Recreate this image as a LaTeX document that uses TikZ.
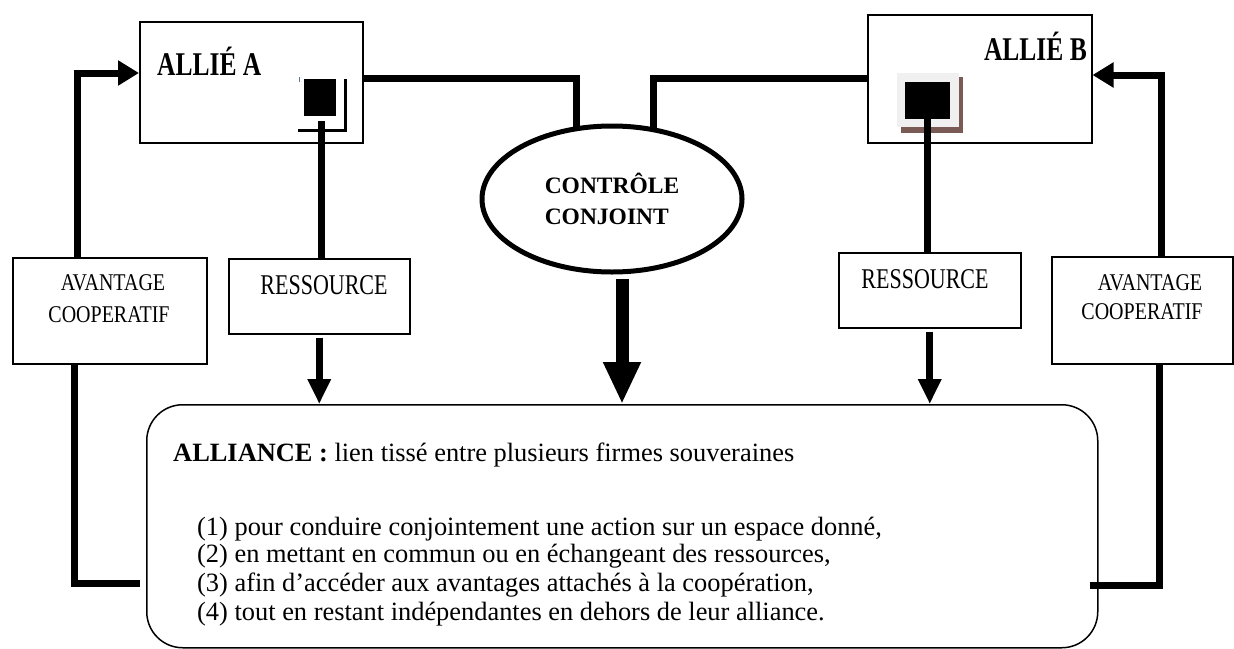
\documentclass[tikz,border=0pt]{standalone}
\usepackage{fontspec}
\usepackage{graphicx}
\setmainfont{Liberation Serif}
\usetikzlibrary{arrows.meta,shapes.geometric}
\newcommand\vstretch[2]{\scalebox{1}[#1]{#2}}
\definecolor{shadowbrown}{HTML}{7A5A55}
\definecolor{framegray}{HTML}{F0F0F0}
\definecolor{tickblue}{HTML}{5A7AA0}
\begin{document}
\begin{tikzpicture}[x=1pt,y=-1pt,
  box/.style={draw, line width=1.5pt, inner sep=0pt, anchor=north west, fill=white},
  thickline/.style={line width=7pt},
  looparrow/.style={line width=7pt, -{Triangle[length=21pt,width=24pt]}},
  resarrow/.style={line width=7pt, -{Triangle[length=25pt,width=22pt]}, shorten <=3pt},
  bigarrow/.style={line width=13pt, -{Triangle[length=42pt,width=35pt]}, shorten <=4pt},
  lbl/.style={inner sep=0pt, font=\fontsize{22}{26}\selectfont},
  avlbl/.style={inner sep=0pt, font=\fontsize{20}{23}\selectfont},
  hdr/.style={inner sep=0pt, font=\bfseries\fontsize{25.5}{30}\selectfont},
  body/.style={inner sep=0pt, anchor=base west, font=\fontsize{26.4}{30}\selectfont}
]
\useasboundingbox (0,0) rectangle (1234,648);
\fill[white] (0,0) rectangle (1234,648);

% main boxes
\node[box, minimum width=223pt, minimum height=121pt] (allieA) at (139,21) {};
\node[box, minimum width=224pt, minimum height=128pt] (allieB) at (867,14) {};
\node[box, minimum width=194pt, minimum height=106pt] (avl) at (12,257) {};
\node[box, minimum width=181pt, minimum height=75pt] (resL) at (228,258) {};
\node[box, minimum width=182pt, minimum height=75pt] (resR) at (838,252) {};
\node[box, minimum width=181pt, minimum height=107pt] (avr) at (1051,256) {};
\node[draw, line width=1.5pt, rounded corners=36pt, inner sep=0pt, anchor=north west,
      minimum width=951pt, minimum height=243pt] (alli) at (146,404) {};
\node[draw, ellipse, line width=5pt, inner sep=0pt, minimum width=260pt, minimum height=146pt,
      align=left, font=\bfseries\fontsize{23.5}{31}\selectfont] (ctrl) at (612,199) {CONTRÔLE\\CONJOINT};

% labels
\node[hdr, anchor=base west] (labA) at (157,75) {\vstretch{1.3}{ALLIÉ A}};
\node[hdr, anchor=base east] (labB) at (1087,60) {\vstretch{1.3}{ALLIÉ B}};
\node[avlbl] (avl1) at (113,283) {\vstretch{1.2}{AVANTAGE}};
\node[avlbl] (avl2) at (109,315) {\vstretch{1.2}{COOPERATIF}};
\node[avlbl] (avr1) at (1150,283) {\vstretch{1.2}{AVANTAGE}};
\node[avlbl] (avr2) at (1142,312) {\vstretch{1.2}{COOPERATIF}};
\node[lbl] (resLt) at (324,285) {\vstretch{1.3}{RESSOURCE}};
\node[lbl] (resRt) at (925,279) {\vstretch{1.3}{RESSOURCE}};

% body text
\node[body] (l0) at (173,461) {\textbf{ALLIANCE :} lien tissé entre plusieurs firmes souveraines};
\node[body] (l1) at (197,535) {(1) pour conduire conjointement une action sur un espace donné,};
\node[body] (l2) at (197,562) {(2) en mettant en commun ou en échangeant des ressources,};
\node[body] (l3) at (197,591) {(3) afin d’accéder aux avantages attachés à la coopération,};
\node[body] (l4) at (197,620) {(4) tout en restant indépendantes en dehors de leur alliance.};

% small squares
\node[fill=black, inner sep=0pt, minimum width=32pt, minimum height=37pt, anchor=north west] (sqA) at (304,79) {};
\draw[line width=3pt] (298,130) -- (345,130) -- (345,79);
\draw[line width=1pt, tickblue] (299,77) -- (299,82);
\fill[shadowbrown] (901,77) rectangle (963,133);
\fill[framegray] (897,73) rectangle (959,127);
\node[fill=black, inner sep=0pt, minimum width=45pt, minimum height=37pt, anchor=north west] (sqB) at (905,82) {};

% coordinates
\coordinate (xa) at (77,0);
\coordinate (xb) at (74,0);
\coordinate (yA) at (0,73);
\coordinate (lEnd) at (140,583);
\coordinate (yc) at (0,78);
\coordinate (eA) at (576,131);
\coordinate (eB) at (653,131);
\coordinate (xr) at (1161,0);
\coordinate (xr2) at (1159,0);
\coordinate (yr) at (0,75);
\coordinate (rEnd) at (1090,585);
\coordinate (stemA) at (321,121);
\coordinate (xc) at (622,0);

% connectors
\draw[looparrow] (avl.north -| xa) |- (allieA.west |- yA);
\draw[thickline] (avl.south -| xb) |- (lEnd);
\draw[thickline] (allieA.east |- yc) -| (eA);
\draw[thickline] (eB) |- (allieB.west |- yc);
\draw[looparrow] (avr.north -| xr) |- (allieB.east |- yr);
\draw[thickline] (avr.south -| xr2) |- (rEnd);
\draw[thickline] (stemA) -- (resL.north -| stemA);
\draw[thickline] (sqB.south) -- (resR.north -| sqB.south);
\draw[resarrow] (resL.south) -- (alli.north -| resL.south);
\draw[resarrow] (resR.south) -- (alli.north -| resR.south);
\draw[bigarrow] (ctrl.south -| xc) -- (alli.north -| xc);
\end{tikzpicture}
\end{document}
